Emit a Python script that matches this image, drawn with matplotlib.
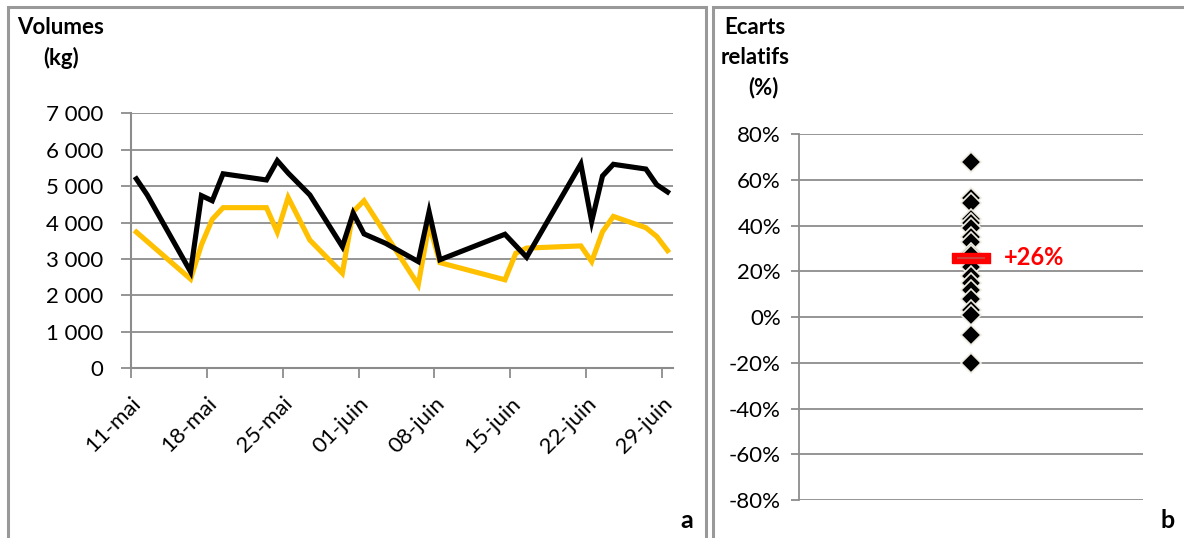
import pandas as pd
import matplotlib.pyplot as plt
from matplotlib.patches import Rectangle
from matplotlib.path import Path

# Volumes (kg) - black series
black_dates = ['2015-05-11', '2015-05-12', '2015-05-16', '2015-05-17', '2015-05-18',
               '2015-05-19', '2015-05-23', '2015-05-24', '2015-05-25', '2015-05-27',
               '2015-05-30', '2015-05-31', '2015-06-01', '2015-06-03', '2015-06-06',
               '2015-06-07', '2015-06-08', '2015-06-14', '2015-06-16', '2015-06-21',
               '2015-06-22', '2015-06-23', '2015-06-24', '2015-06-27', '2015-06-28',
               '2015-06-29']
black_values = [5200, 4760, 2650, 4740, 4600, 5340, 5170, 5700, 5360, 4760,
                3340, 4260, 3690, 3430, 2930, 4300, 2980, 3680, 3050, 5610,
                4030, 5280, 5600, 5470, 5040, 4840]

# Volumes (kg) - yellow series
yellow_dates = ['2015-05-11', '2015-05-16', '2015-05-17', '2015-05-18', '2015-05-19',
                '2015-05-23', '2015-05-24', '2015-05-25', '2015-05-27', '2015-05-30',
                '2015-05-31', '2015-06-01', '2015-06-06', '2015-06-07', '2015-06-08',
                '2015-06-14', '2015-06-15', '2015-06-16', '2015-06-21', '2015-06-22',
                '2015-06-23', '2015-06-24', '2015-06-27', '2015-06-28', '2015-06-29']
yellow_values = [3740, 2450, 3390, 4090, 4410, 4410, 3740, 4690, 3520, 2610,
                 4300, 4600, 2290, 3960, 2900, 2430, 3160, 3300, 3360, 2930,
                 3750, 4170, 3860, 3620, 3230]

tick_dates = ['2015-05-11', '2015-05-18', '2015-05-25', '2015-06-01',
              '2015-06-08', '2015-06-15', '2015-06-22', '2015-06-29']
tick_labels = ['11-mai', '18-mai', '25-mai', '01-juin',
               '08-juin', '15-juin', '22-juin', '29-juin']
y_ticks = [0, 1000, 2000, 3000, 4000, 5000, 6000, 7000]
y_labels = ['0', '1 000', '2 000', '3 000', '4 000', '5 000', '6 000', '7 000']

# Ecarts relatifs (%)
ecarts = [68, 52, 50, 43, 41, 39, 35, 33, 28, 27, 22, 18, 15, 12, 8, 3, 1, -8, -20]
ecart_moyen = 26
pct_ticks = [-80, -60, -40, -20, 0, 20, 40, 60, 80]

plt.rcParams['font.family'] = ['Lato', 'DejaVu Sans']
grid_col = '#8c8c8c'
yellow = '#FFC000'
fs = 16

fig = plt.figure(figsize=(11.84, 5.38), dpi=100)

# panel frames
W, H = 1184, 538
for x0, x1 in [(8, 706), (713, 1200)]:
    fig.patches.append(Rectangle((x0 / W, -0.1), (x1 - x0) / W, (H - 7) / H + 0.1,
                                 transform=fig.transFigure, fill=False,
                                 edgecolor='#999999', linewidth=2.2))

# ---- left chart: volumes ----
ax = fig.add_axes([0.1106, 0.3154, 0.4578, 0.474])
half = pd.Timedelta(hours=12)
bx = pd.to_datetime(black_dates) + half
yx = pd.to_datetime(yellow_dates) + half
ax.plot(yx, yellow_values, color=yellow, linewidth=3.7, solid_joinstyle='miter', zorder=3)
ax.plot(bx, black_values, color='black', linewidth=3.7, solid_joinstyle='miter', zorder=4)

ax.set_xlim(pd.Timestamp('2015-05-11'), pd.Timestamp('2015-06-30'))
ax.set_ylim(0, 7000)
ax.set_yticks(y_ticks)
ax.set_yticklabels(y_labels, fontsize=fs)
ax.set_xticks(pd.to_datetime(tick_dates))
ax.set_xticklabels(tick_labels, fontsize=fs, rotation=45, ha='right',
                   rotation_mode='anchor')
ax.yaxis.grid(True, color=grid_col, linewidth=1.3)
ax.set_axisbelow(True)
for s in ['top', 'right']:
    ax.spines[s].set_visible(False)
for s in ['left', 'bottom']:
    ax.spines[s].set_color(grid_col)
    ax.spines[s].set_linewidth(1.5)
ax.tick_params(axis='both', direction='out', length=7, color=grid_col, width=1.3)
ax.tick_params(axis='y', pad=13)
ax.tick_params(axis='x', pad=11)

fig.text(17 / W, 1 - 28 / H, 'Volumes', fontsize=fs, fontweight='bold', va='center')
fig.text(61 / W, 1 - 58 / H, '(kg)', fontsize=fs, fontweight='bold', va='center', ha='center')
fig.text(687 / W, 1 - 521 / H, 'a', fontsize=fs + 2, fontweight='bold', ha='center', va='center')

# ---- right chart: relative gaps ----
ax2 = fig.add_axes([0.6748, 0.0706, 0.2905, 0.6798])
ax2.plot([1] * len(ecarts), ecarts, linestyle='none', marker='D', markersize=10,
         markerfacecolor='black', markeredgecolor='#EEECE1', markeredgewidth=1.2, zorder=3)
bar = Path([(-1, -0.27), (1, -0.27), (1, 0.27), (-1, 0.27), (-1, -0.27)])
ax2.plot([1], [ecart_moyen], marker=bar, markersize=27, linestyle='none',
         markerfacecolor='#FF0000', markeredgecolor='#FF0000', zorder=4)
ax2.plot([1], [ecart_moyen], marker='_', markersize=20, markeredgewidth=1.5,
         color='#C0504D', alpha=0.8, zorder=5)
ax2.text(1.19, ecart_moyen, f'+{ecart_moyen}%', color='#FF0000', fontsize=fs + 1,
         fontweight='bold', va='center', ha='left')

ax2.set_xlim(0, 2)
ax2.set_ylim(-80, 80)
ax2.set_yticks(pct_ticks)
ax2.set_yticklabels([f'{v}%' for v in pct_ticks], fontsize=fs)
ax2.set_xticks([])
ax2.yaxis.grid(True, color=grid_col, linewidth=1.3)
ax2.set_axisbelow(True)
for s in ['top', 'right', 'bottom']:
    ax2.spines[s].set_visible(False)
ax2.spines['left'].set_color(grid_col)
ax2.spines['left'].set_linewidth(1.3)
ax2.tick_params(axis='y', direction='out', length=6, color=grid_col, width=1.3, pad=7)

fig.text(755 / W, 1 - 28 / H, 'Ecarts', fontsize=fs, fontweight='bold', ha='center', va='center')
fig.text(755 / W, 1 - 58 / H, 'relatifs', fontsize=fs, fontweight='bold', ha='center', va='center')
fig.text(763 / W, 1 - 88 / H, '(%)', fontsize=fs, fontweight='bold', ha='center', va='center')
fig.text(1168 / W, 1 - 521 / H, 'b', fontsize=fs + 2, fontweight='bold', ha='center', va='center')

fig.savefig('out.png', dpi=100)
